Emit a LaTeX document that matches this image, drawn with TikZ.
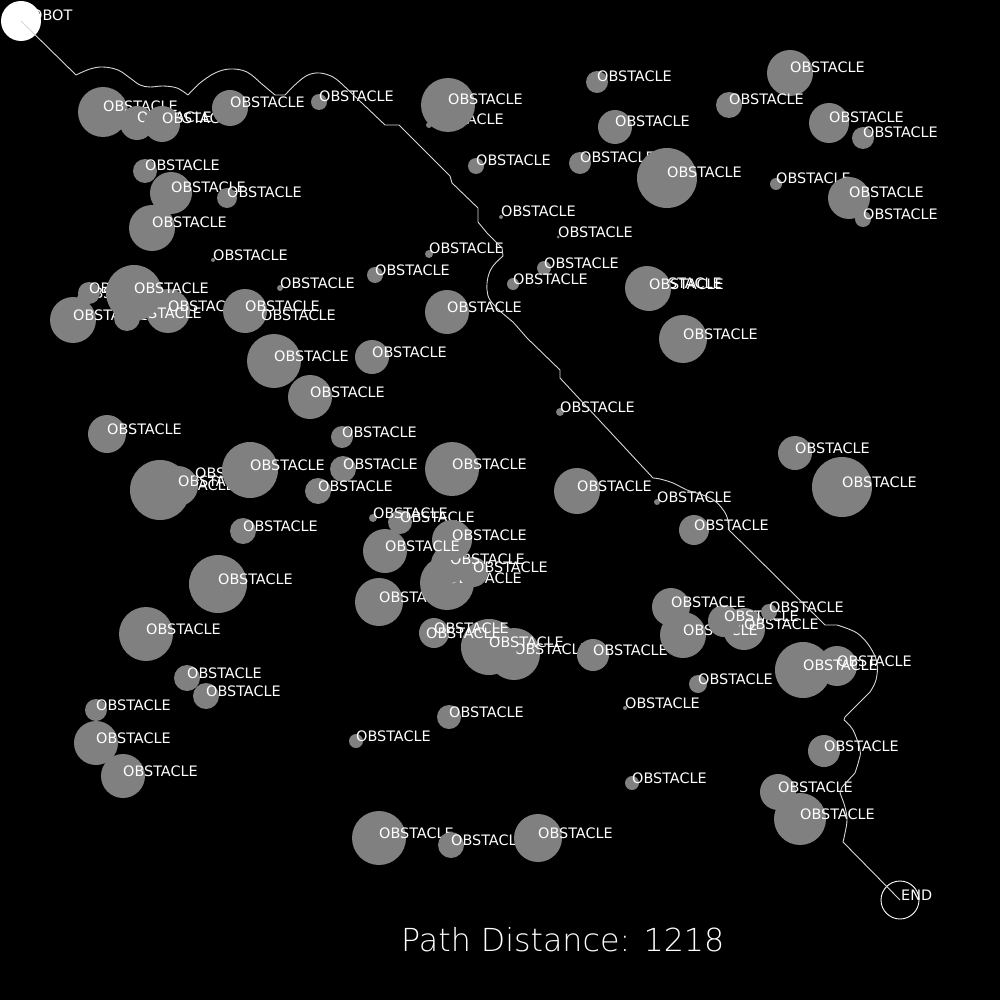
\documentclass[tikz,border=0pt]{standalone}
\usepackage{fontspec}
\setmainfont{DejaVu Sans}
\newfontfamily\thinfont{DejaVu Sans ExtraLight}
\definecolor{obstgray}{RGB}{128,128,128}
\definecolor{routegray}{RGB}{215,215,215}

\begin{document}
\begin{tikzpicture}[x=1pt,y=-1pt,
  obst/.style={fill=obstgray},
  lbl/.style={anchor=base west,inner sep=0pt,text=white,
    font=\fontsize{14.4}{14.4}\selectfont},
  route/.style={draw=routegray,line width=.9pt,line join=round}]
  \fill[black] (0,0) rectangle (1000,1000);
  % obstacles, in the order they are painted
  \foreach \x/\y/\r [count=\i] in {
    103/112/25, 137/123/17, 162/124/18, 230/108/18, 319/102/8,
    429/125/3, 448/105/27, 597/82/11, 615/127/17, 476/166/8,
    580/163/11, 667/178/30, 790/73/23, 729/105/13, 829/123/20,
    863/138/11, 776/184/6, 849/198/21, 863/219/8, 501/217/2,
    558/237/1.5, 429/254/4, 544/268/7, 513/284/6, 375/275/8,
    447/312/22, 647/288/22, 649/289/22, 683/339/24,
    145/171/12, 171/193/21, 227/198/10, 152/228/23, 213/260/2,
    73/320/23, 82/298/5, 89/293/11, 168/311/22, 127/318/13,
    134/293/28, 245/311/22, 261/320/2, 280/288/3,
    274/361/27, 310/397/22, 372/357/17, 560/412/4, 107/434/19,
    342/437/11, 343/469/13, 318/491/13, 452/469/27, 577/491/23,
    160/490/30, 178/486/20, 195/478/2, 250/470/28,
    657/502/3, 795/453/17, 842/487/30, 694/530/15, 243/531/13,
    400/522/12, 373/518/4, 379/602/24, 447/583/27, 473/572/15,
    450/564/19, 452/540/20, 385/551/22,
    218/584/29, 146/634/27, 514/654/26, 489/647/28, 434/633/15,
    426/638/3, 593/655/16,
    744/629/21, 683/635/23, 724/621/16, 671/607/19, 769/612/8,
    837/666/20, 803/670/28, 698/684/9, 625/708/2,
    187/678/13, 206/696/13, 96/710/11, 96/743/22, 123/776/22,
    449/717/12, 356/741/7, 632/783/7, 824/751/16, 778/792/18,
    800/819/26, 379/838/27, 451/845/13, 538/838/24}{
    \fill[obst] (\x,\y) circle[radius=\r pt];
    \node[lbl] (obst\i) at (\x,\y) {OBSTACLE};
  }

  % start and goal
  \node[circle,fill=white,minimum size=40pt,inner sep=0pt] (robot) at (21,21) {};
  \node[lbl] (robotlbl) at (21,21) {ROBOT};
  \node[circle,draw=white,line width=.9pt,minimum size=38pt,inner sep=0pt] (goal) at (900,900) {};
  \node[lbl] (goallbl) at (901,900) {END};

  % planned route
  \draw[route] (robot.center) -- (76,75)
    plot[smooth,tension=.6] coordinates {(76,75) (90,69) (103,67) (118,70)
      (130,78) (140,85) (150,87) (163,86) (177,88) (188,95)}
    plot[smooth,tension=.6] coordinates {(188,95) (200,83) (215,73) (230,69)
      (247,72) (263,85) (275,95)}
    -- (285,95)
    plot[smooth,tension=.6] coordinates {(285,95) (297,83) (308,75) (320,73)
      (333,77) (343,85)}
    -- (385,125) -- (399,125) -- (450,176) -- (452,183) -- (478,208)
    -- (478,222) -- (487,233) -- (502,248) -- (503,256)
    plot[smooth,tension=.6] coordinates {(503,256) (493,266) (488,277)
      (487,290) (490,300) (500,311) (513,322)}
    -- (527,338) -- (560,370) -- (560,378) -- (653,478)
    plot[smooth,tension=.6] coordinates {(653,478) (660,479) (673,483)
      (687,490) (700,494) (712,499) (721,507) (727,517) (729,530)}
    -- (825,625) -- (837,625)
    plot[smooth,tension=.6] coordinates {(837,625) (857,633) (870,647)
      (877,663) (876,680) (870,692)}
    -- (845,717) -- (844,720)
    plot[smooth,tension=.6] coordinates {(844,720) (853,730) (860,750)
      (859,760) (855,773)}
    -- (842,787) -- (840,793)
    plot[smooth,tension=.6] coordinates {(840,793) (845,807) (847,820)
      (845,833) (843,842)}
    -- (goal.center);

  \node[anchor=base west,inner sep=0pt,text=white,
    font=\thinfont\fontsize{31.7}{31.7}\selectfont] (dist) at (401,951)
    {Path Distance: 1218};
\end{tikzpicture}
\end{document}
